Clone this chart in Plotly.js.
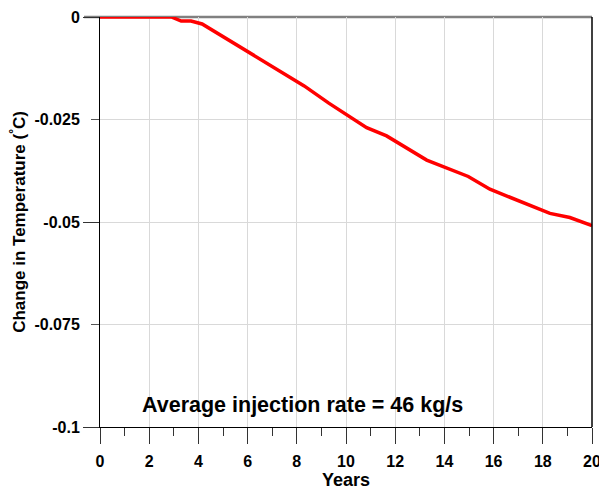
<!DOCTYPE html>
<html>
<head>
<meta charset="utf-8">
<script src="https://cdn.plot.ly/plotly-3.0.1.min.js"></script>
<style>
  html, body { margin: 0; padding: 0; background: #fff; }
  #chart { width: 599px; height: 490px; }
</style>
</head>
<body>
<div id="chart"></div>
<script>
// Temperature change over time at the injection site
const years = [0, 1, 2, 2.9, 3.3, 3.7, 4.15, 7.93, 8.3, 9.3, 10.84, 11.65, 13.28, 14.97, 15.85, 18.29, 19.1, 20];
const deltaT = [0, 0, 0, 0, -0.001, -0.001, -0.0017, -0.0154, -0.0168, -0.021, -0.027, -0.029, -0.0349, -0.0389, -0.042, -0.0479, -0.0489, -0.0509];

const yTickVals = [0, -0.025, -0.05, -0.075, -0.1];
const yTickText = ['0', '-0.025', '-0.05', '-0.075', '-0.1'];
const yMajorVals = [0, -0.05, -0.1];
const xTickVals = [0, 2, 4, 6, 8, 10, 12, 14, 16, 18, 20];

const font = "'Liberation Sans', Arial, sans-serif";

const traces = [
  {
    x: years, y: deltaT, type: 'scatter', mode: 'lines',
    line: { color: '#ff0000', width: 3.5 },
    cliponaxis: false, hoverinfo: 'x+y'
  },
  {
    // carrier for the long y ticks
    x: years, y: deltaT, type: 'scatter', mode: 'lines', yaxis: 'y2',
    line: { color: 'rgba(0,0,0,0)', width: 0 }, hoverinfo: 'skip', showlegend: false
  }
];

const layout = {
  width: 599, height: 490,
  margin: { l: 100, r: 7, t: 17, b: 63 },
  paper_bgcolor: '#fff', plot_bgcolor: '#fff',
  showlegend: false,
  font: { family: font, color: '#000' },
  xaxis: {
    range: [0, 20], tickvals: xTickVals,
    ticks: 'outside', ticklen: 16, tickwidth: 1, tickcolor: '#333',
    minor: { dtick: 1, ticks: 'outside', ticklen: 8, tickcolor: '#333', showgrid: false },
    showgrid: true, gridcolor: '#d9d9d9', gridwidth: 1,
    showline: true, linecolor: '#000', linewidth: 1,
    zeroline: false,
    ticklabeloverflow: 'allow',
    ticklabelstandoff: 4,
    tickfont: { family: font, size: 16, color: '#000', weight: 'bold' },
    title: { text: '<b>Years</b>', font: { family: font, size: 18, color: '#000' }, standoff: 9 }
  },
  yaxis: {
    range: [-0.1, 0], tickvals: yTickVals, ticktext: yTickText,
    ticks: 'outside', ticklen: 8, tickwidth: 1, tickcolor: '#555',
    ticklabelstandoff: 8,
    showgrid: true, gridcolor: '#d9d9d9', gridwidth: 1,
    showline: true, linecolor: '#000', linewidth: 1,
    zeroline: false,
    tickfont: { family: font, size: 16, color: '#000', weight: 'bold' },
    title: { text: '<b>Change in Temperature (<sup>°</sup>C)</b>', font: { family: font, size: 17, color: '#000' }, standoff: 4 }
  },
  yaxis2: {
    overlaying: 'y', side: 'left', range: [-0.1, 0], tickvals: yMajorVals,
    ticks: 'outside', ticklen: 16, tickwidth: 1, tickcolor: '#333',
    showticklabels: false, showgrid: false, zeroline: false, showline: false
  },
  shapes: [
    { type: 'line', xref: 'paper', yref: 'paper', x0: -16 / 492, x1: 1, y0: 1, y1: 1,
      line: { color: '#808080', width: 2.5 }, layer: 'below' },
    { type: 'line', xref: 'paper', yref: 'paper', x0: 1, x1: 1, y0: 0, y1: 1,
      line: { color: '#000', width: 1.5 } }
  ],
  annotations: [
    { text: '<b>Average injection rate = 46 kg/s</b>', xref: 'paper', yref: 'paper',
      x: (302 - 100) / 492, y: (427 - 405) / 410, xanchor: 'center', yanchor: 'middle',
      showarrow: false, font: { family: font, size: 21.5, color: '#000' } }
  ]
};

Plotly.newPlot('chart', traces, layout, { displayModeBar: false, staticPlot: true });
</script>
</body>
</html>
